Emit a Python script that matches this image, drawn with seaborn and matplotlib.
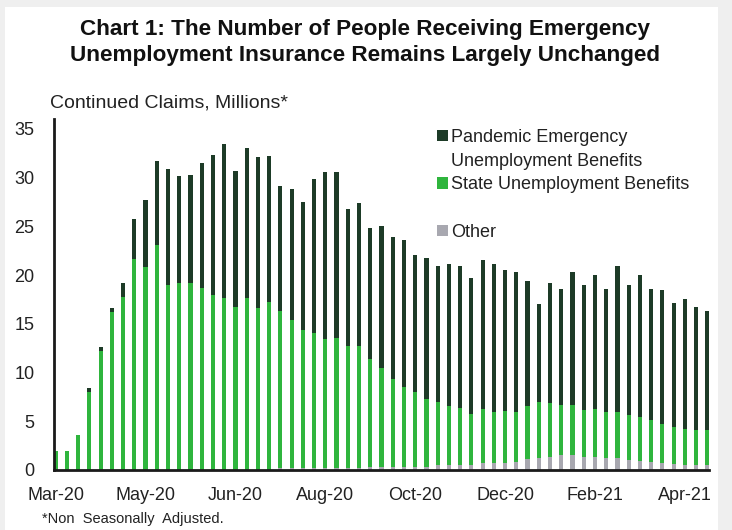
import matplotlib
matplotlib.use("Agg")
import matplotlib.pyplot as plt
from matplotlib.patches import Rectangle, Patch
import numpy as np
import pandas as pd
import seaborn as sns

# Weekly continued claims, millions (non seasonally adjusted)
week_ending = pd.date_range("2020-03-07", periods=59, freq="7D")

total_claims = [
    2.0, 2.0, 3.6, 8.4, 12.6, 16.6, 19.2, 25.7, 27.7, 31.7,
    30.9, 30.2, 30.3, 31.5, 32.3, 33.4, 30.7, 33.0, 32.1, 32.2,
    29.1, 28.8, 27.5, 29.8, 30.6, 30.6, 26.8, 27.4, 24.8, 25.0,
    23.9, 23.6, 22.1, 21.7, 20.9, 21.1, 20.9, 19.7, 21.5, 21.1,
    20.5, 20.3, 19.4, 17.0, 19.2, 18.6, 20.3, 19.0, 20.0, 18.6,
    20.9, 19.0, 20.0, 18.6, 18.5, 17.1, 17.5, 16.7, 16.3,
]
# top of the state segment (other + state)
state_and_other = [
    2.0, 2.0, 3.6, 8.0, 12.2, 16.2, 17.7, 21.6, 20.8, 23.1,
    19.0, 19.2, 19.2, 18.7, 17.9, 17.6, 16.7, 17.6, 16.6, 17.2,
    16.3, 15.4, 14.4, 14.1, 13.4, 13.5, 12.7, 12.7, 11.4, 10.5,
    9.3, 8.5, 8.0, 7.3, 7.0, 6.6, 6.4, 5.7, 6.3, 6.0,
    6.1, 6.0, 6.6, 7.0, 6.9, 6.7, 6.7, 6.2, 6.3, 6.0,
    6.0, 5.6, 5.4, 5.1, 4.7, 4.4, 4.2, 4.1, 4.1,
]
other_claims = [
    0.0, 0.0, 0.0, 0.0, 0.0, 0.0, 0.0, 0.0, 0.0, 0.0,
    0.0, 0.0, 0.0, 0.0, 0.0, 0.0, 0.0, 0.0, 0.0, 0.0,
    0.2, 0.2, 0.2, 0.2, 0.2, 0.2, 0.2, 0.2, 0.35, 0.35,
    0.35, 0.35, 0.35, 0.35, 0.5, 0.5, 0.5, 0.5, 0.7, 0.7,
    0.75, 0.8, 1.1, 1.2, 1.35, 1.5, 1.55, 1.35, 1.3, 1.2,
    1.25, 1.05, 0.95, 0.85, 0.7, 0.6, 0.55, 0.5, 0.5,
]

series_labels = [
    "Pandemic Emergency\nUnemployment Benefits",
    "State Unemployment Benefits",
    "Other",
]
y_ticks = [0, 5, 10, 15, 20, 25, 30, 35]

DARK = "#1d3b27"
GREEN = "#2fb53d"
GREY = "#a8a8b0"
TEXT = "#222222"
BASE_FONT = ["Liberation Sans", "DejaVu Sans"]

sns.set_style("white")
plt.rcParams["font.family"] = BASE_FONT

df = pd.DataFrame({
    "week": week_ending.strftime("%Y-%m-%d"),
    "total": total_claims,
    "state_top": state_and_other,
    "other": other_claims,
})

W, H = 732, 530
fig = plt.figure(figsize=(W / 100, H / 100), dpi=100)
fig.patch.set_facecolor("#efefef")
fig.add_artist(Rectangle((5 / W, 0), (718 - 5) / W, (H - 7) / H,
                         transform=fig.transFigure, facecolor="white",
                         edgecolor="none", zorder=-10))

ax = fig.add_axes([54 / W, 1 - 470 / H, (709 - 54) / W, (470 - 119) / H])
ax.set_facecolor("white")

# stacked bars drawn back to front: full height, then state+other, then other
common = dict(x="week", ax=ax, width=0.37, saturation=1, linewidth=0,
              order=list(df["week"]))
sns.barplot(data=df, y="total", color=DARK, **common)
sns.barplot(data=df, y="state_top", color=GREEN, **common)
sns.barplot(data=df, y="other", color=GREY, **common)

ax.set_xlim(-0.15, len(df) - 0.85)
ax.set_ylim(0, 36)
ax.set_yticks(y_ticks)
ax.set_yticklabels([str(t) for t in y_ticks])

tick_idx = list(range(0, len(df), 8))
ax.set_xticks(tick_idx)
ax.set_xticklabels([week_ending[i].strftime("%b-%y") for i in tick_idx])

ax.set_xlabel("")
ax.set_ylabel("")
ax.tick_params(axis="both", length=0, labelsize=13, colors=TEXT)
ax.tick_params(axis="y", pad=14)
ax.tick_params(axis="x", pad=12)
for side in ("top", "right"):
    ax.spines[side].set_visible(False)
for side in ("left", "bottom"):
    ax.spines[side].set_color("#1a1a1a")
    ax.spines[side].set_linewidth(2)
ax.grid(False)

# legend: the two-line entry keeps its swatch on the first line,
# and a spacer row separates "Other"
blank = Patch(facecolor="none", edgecolor="none")
first_line, second_line = series_labels[0].split("\n")
handles = [
    Patch(facecolor=DARK, edgecolor="none"),
    blank,
    Patch(facecolor=GREEN, edgecolor="none"),
    blank,
    Patch(facecolor=GREY, edgecolor="none"),
]
labels = [first_line, second_line, series_labels[1], " ", series_labels[2]]
leg = ax.legend(handles, labels, loc="upper left",
                bbox_to_anchor=(437 / W, 1 - 129 / H),
                bbox_transform=fig.transFigure, frameon=False,
                fontsize=13, handlelength=0.6, handleheight=0.6,
                handletextpad=0.2, labelspacing=0.37, borderpad=0,
                borderaxespad=0)
for t in leg.get_texts():
    t.set_color(TEXT)

title_kw = dict(ha="center", va="center", fontsize=16.2, fontweight="bold",
                color="#111111")
fig.text(365 / W, 1 - 29 / H,
         "Chart 1: The Number of People Receiving Emergency", **title_kw)
fig.text(365 / W, 1 - 55 / H,
         "Unemployment Insurance Remains Largely Unchanged", **title_kw)
fig.text(50 / W, 1 - 103 / H, "Continued Claims, Millions*",
         ha="left", va="center", fontsize=14, color=TEXT)
fig.text(42 / W, 1 - 519 / H, "*Non  Seasonally  Adjusted.",
         ha="left", va="center", fontsize=10.5, color=TEXT)

fig.savefig("out.png", dpi=100, facecolor=fig.get_facecolor())
